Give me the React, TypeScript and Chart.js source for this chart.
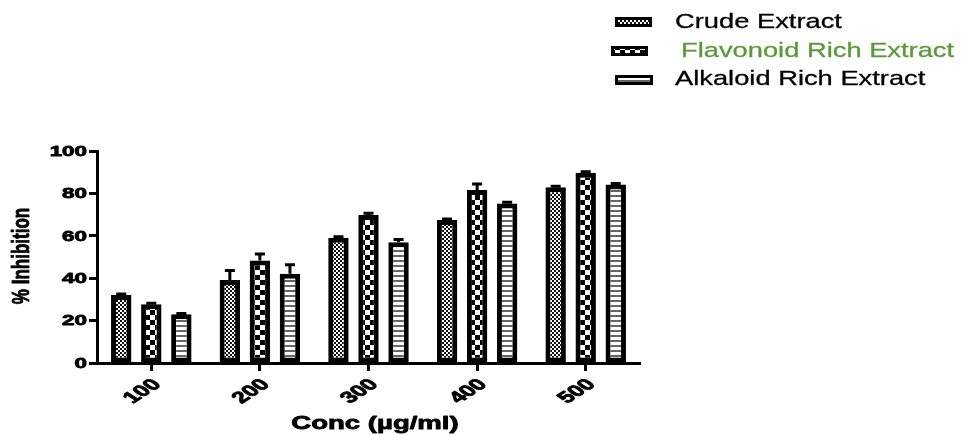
import React, { useEffect, useRef } from "react";
import { Chart, registerables } from "chart.js";

Chart.register(...registerables);

const categories = ["100", "200", "300", "400", "500"];
const seriesNames = ["Crude Extract", "Flavonoid Rich Extract", "Alkaloid Rich Extract"];
const crudeValues = [32.1, 39.2, 59.1, 67.4, 82.9];
const flavonoidValues = [27.7, 48.3, 69.8, 81.6, 89.7];
const alkaloidValues = [23.0, 42.1, 56.9, 75.2, 84.2];
const crudeErrors = [0.5, 4.4, 0.5, 0.5, 0.5];
const flavonoidErrors = [0.5, 3.1, 0.8, 2.8, 0.5];
const alkaloidErrors = [0.3, 4.2, 1.3, 0.6, 0.5];
const yTicks = [0, 20, 40, 60, 80, 100];
const yTitle = "% Inhibition";
const xTitle = "Conc (µg/ml)";

function makeTile(w: number, h: number, draw: (c: CanvasRenderingContext2D) => void) {
  const cv = document.createElement("canvas");
  cv.width = w;
  cv.height = h;
  const c = cv.getContext("2d")!;
  c.fillStyle = "#ffffff";
  c.fillRect(0, 0, w, h);
  draw(c);
  return c.createPattern(cv, "repeat")!;
}

function makePatterns() {
  const crude = makeTile(4, 4, (c) => {
    c.fillStyle = "#111";
    c.fillRect(0, 0, 2, 2);
    c.fillRect(2, 2, 2, 2);
  });
  const flav = makeTile(10, 10, (c) => {
    c.fillStyle = "#000";
    c.fillRect(0, 0, 5, 5);
    c.fillRect(5, 5, 5, 5);
  });
  const alk = makeTile(4, 5, (c) => {
    c.fillStyle = "#666";
    c.fillRect(0, 0, 4, 2);
  });
  return [crude, flav, alk];
}

function drawText(
  ctx: CanvasRenderingContext2D,
  text: string,
  x: number,
  y: number,
  opts: {
    font: string;
    sx: number;
    color?: string;
    align?: CanvasTextAlign;
    baseline?: CanvasTextBaseline;
    rot?: number;
    stroke?: number;
  }
) {
  ctx.save();
  ctx.translate(x, y);
  ctx.scale(opts.sx, 1);
  if (opts.rot) ctx.rotate(opts.rot);
  ctx.font = opts.font;
  ctx.fillStyle = opts.color || "#000";
  ctx.strokeStyle = opts.color || "#000";
  ctx.textAlign = opts.align || "left";
  ctx.textBaseline = opts.baseline || "middle";
  ctx.fillText(text, 0, 0);
  if (opts.stroke) {
    ctx.lineWidth = opts.stroke;
    ctx.lineJoin = "round";
    ctx.strokeText(text, 0, 0);
  }
  ctx.restore();
}

export default function App() {
  const ref = useRef<HTMLCanvasElement | null>(null);

  useEffect(() => {
    const canvas = ref.current!;
    const patterns = makePatterns();
    const errors = [crudeErrors, flavonoidErrors, alkaloidErrors];
    const font = "'Liberation Sans', Arial, sans-serif";

    const errorBars = {
      id: "errorBars",
      afterDatasetsDraw(chart: any) {
        const ctx = chart.ctx;
        const y = chart.scales.y;
        ctx.save();
        ctx.strokeStyle = "#000";
        ctx.lineWidth = 3;
        chart.data.datasets.forEach((ds: any, di: number) => {
          const meta = chart.getDatasetMeta(di);
          meta.data.forEach((bar: any, i: number) => {
            const v = ds.data[i];
            const top = y.getPixelForValue(v + errors[di][i]);
            const base = y.getPixelForValue(v);
            ctx.beginPath();
            ctx.moveTo(bar.x, base);
            ctx.lineTo(bar.x, top);
            ctx.moveTo(bar.x - 5, top);
            ctx.lineTo(bar.x + 5, top);
            ctx.stroke();
          });
        });
        ctx.restore();
      },
    };

    const texts = {
      id: "texts",
      afterDraw(chart: any) {
        const ctx = chart.ctx;
        const ys = chart.scales.y;
        const xs = chart.scales.x;
        yTicks.forEach((t) => {
          drawText(ctx, String(t), 87, ys.getPixelForValue(t) + 1, {
            font: `bold 14px ${font}`,
            sx: 1.6,
            align: "right",
            stroke: 0.8,
          });
        });
        categories.forEach((c, i) => {
          const x = xs.getPixelForTick(i);
          drawText(ctx, c, x + 6, 382, {
            font: `bold 16px ${font}`,
            sx: 1.55,
            align: "right",
            rot: -Math.PI / 4,
            stroke: 0.8,
          });
        });
        drawText(ctx, yTitle, 22, 256, {
          font: `bold 17px ${font}`,
          sx: 1.45,
          align: "center",
          rot: -Math.PI / 2,
          stroke: 0.6,
        });
        drawText(ctx, xTitle, 375, 424, {
          font: `bold 19px ${font}`,
          sx: 1.45,
          align: "center",
          stroke: 0.8,
        });
        // legend
        const boxes = [
          { x: 615, y: 17, w: 37, h: 10, tx: 675, ty: 22, color: "#000" },
          { x: 611, y: 46, w: 37, h: 10, tx: 681, ty: 51, color: "#5a9a38" },
          { x: 615, y: 75, w: 38, h: 10, tx: 675, ty: 79.5, color: "#000" },
        ];
        boxes.forEach((b, i) => {
          ctx.save();
          ctx.fillStyle = patterns[i];
          ctx.fillRect(b.x, b.y, b.w, b.h);
          ctx.strokeStyle = "#000";
          ctx.lineWidth = 3;
          ctx.strokeRect(b.x + 1.5, b.y + 1.5, b.w - 3, b.h - 3);
          ctx.restore();
          drawText(ctx, seriesNames[i], b.tx, b.ty, {
            font: `21px ${font}`,
            sx: 1.3,
            color: b.color,
            stroke: 0.3,
          });
        });
      },
    };

    const mk = (label: string, data: number[], i: number) => ({
      label,
      data,
      backgroundColor: patterns[i],
      borderColor: "#000",
      borderWidth: 5,
      borderSkipped: false,
      categoryPercentage: 0.83,
      barPercentage: 0.68,
    });

    const chart = new Chart(canvas, {
      type: "bar",
      data: {
        labels: categories,
        datasets: [
          mk(seriesNames[0], crudeValues, 0),
          mk(seriesNames[1], flavonoidValues, 1),
          mk(seriesNames[2], alkaloidValues, 2),
        ],
      },
      options: {
        responsive: false,
        animation: false,
        devicePixelRatio: 1,
        layout: { padding: { left: 0, top: 151, right: 329, bottom: 0 } },
        plugins: { legend: { display: false }, tooltip: { enabled: false } },
        scales: {
          x: {
            grid: {
              offset: false,
              drawOnChartArea: false,
              tickLength: 8,
              tickWidth: 3,
              tickColor: "#000",
            },
            border: { color: "#000", width: 3 },
            ticks: { display: false },
            afterFit: (s: any) => {
              s.height = 72;
            },
          },
          y: {
            min: 0,
            max: 100,
            grid: {
              drawOnChartArea: false,
              tickLength: 8,
              tickWidth: 3,
              tickColor: "#000",
            },
            border: { color: "#000", width: 3 },
            ticks: { display: false, stepSize: 20 },
            afterFit: (s: any) => {
              s.width = 97;
            },
          },
        },
      },
      plugins: [errorBars, texts],
    } as any);

    return () => chart.destroy();
  }, []);

  return (
    <div style={{ position: "absolute", left: 0, top: 0, width: 969, height: 435, background: "#fff" }}>
      <canvas ref={ref} width={969} height={435} style={{ width: 969, height: 435, display: "block" }} />
    </div>
  );
}
